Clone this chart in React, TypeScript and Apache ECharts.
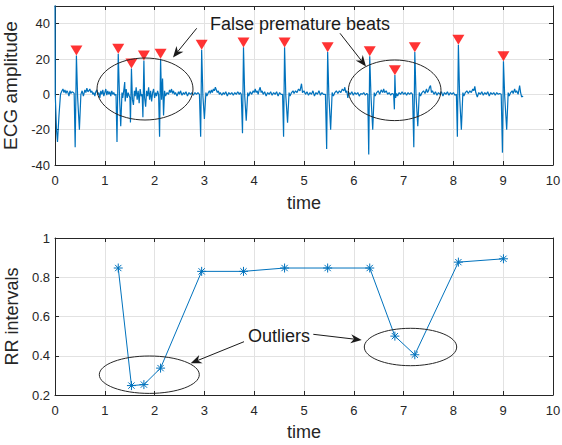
import React, { useEffect, useRef } from "react";
import * as echarts from "echarts";

// R-peak times (s) and detected-peak marker amplitudes
const peakTimes = [0.43, 1.27, 1.535, 1.785, 2.12, 2.945, 3.785, 4.61, 5.475, 6.32, 6.825, 7.225, 8.1, 9.005];
const peakMarkers = [24.8, 25.8, 17.4, 22, 23, 28, 29.4, 29.4, 26.7, 24.4, 13.7, 26.7, 30.9, 21.5];

// RR intervals (s) plotted at the time of the second beat of each pair
const rrTimes = [1.27, 1.535, 1.785, 2.12, 2.945, 3.785, 4.61, 5.475, 6.32, 6.825, 7.225, 8.1, 9.005];
const rrValues = [0.847, 0.248, 0.253, 0.337, 0.83, 0.83, 0.847, 0.847, 0.847, 0.5, 0.405, 0.877, 0.894];

// ECG trace samples [time, amplitude]
const ecgSamples: [number, number][] = [
  [0, 55], [0.005, 0], [0.03, -20], [0.05, -27], [0.08, -12], [0.11, 0], [0.14, 2],
  [0.16, 3], [0.18, 1], [0.2, 2.5], [0.22, 0.5], [0.24, 2], [0.26, 1], [0.28, -1], [0.3, 2], [0.32, 0.5], [0.34, 1.5], [0.37, 1],
  [0.385, 0.5], [0.405, -30], [0.43, 22], [0.455, -2], [0.49, -20], [0.52, 0], [0.545, 2],
  [0.57, -1], [0.6, 2.5], [0.62, 1], [0.64, 3.5], [0.66, 1.5], [0.68, 2], [0.7, 3], [0.72, 1], [0.74, 2], [0.76, 0], [0.78, 1], [0.8, -1],
  [0.82, 1.5], [0.84, 2.5], [0.86, 0], [0.88, 1], [0.9, -2], [0.92, 2], [0.94, 0], [0.96, 2.5], [0.98, -1], [1.0, 1], [1.02, 3], [1.04, -0.5],
  [1.06, 2], [1.08, 0], [1.1, 1.5], [1.12, -1], [1.14, 2], [1.16, 0], [1.18, 1], [1.2, -0.5],
  [1.225, 0], [1.245, -27], [1.27, 23], [1.295, -1], [1.32, -18], [1.345, 1], [1.36, -2],
  [1.38, 2], [1.4, 7], [1.41, -4], [1.43, 3], [1.45, -2], [1.47, 1], [1.49, -1],
  [1.505, -2], [1.515, -16], [1.535, 14.6], [1.555, -3], [1.575, -6], [1.595, 2], [1.61, -1],
  [1.63, 4], [1.65, -3], [1.67, 2], [1.69, -5], [1.71, 3], [1.73, -1],
  [1.75, 0], [1.765, -13], [1.785, 19.2], [1.8, -2], [1.82, -7], [1.84, 2], [1.86, -1],
  [1.88, 4], [1.9, -3], [1.92, 2], [1.94, -4], [1.96, 1], [1.98, 3], [2.0, -2], [2.02, 1], [2.04, -1], [2.06, 2],
  [2.08, 0], [2.1, -24], [2.12, 20.2], [2.14, -3], [2.16, 9], [2.18, -12], [2.2, 2], [2.22, -1],
  [2.25, 1], [2.28, 0], [2.3, 2.5], [2.32, 1], [2.34, 3], [2.36, 0.5], [2.38, 2], [2.4, 0], [2.42, 1], [2.45, -1], [2.48, 1.5], [2.5, 0],
  [2.52, 2], [2.55, -0.5], [2.58, 1], [2.6, 0], [2.63, 1.5], [2.66, -1], [2.69, 1], [2.72, 0], [2.75, 1], [2.78, -0.5], [2.81, 1], [2.84, 0], [2.87, 1],
  [2.9, 0], [2.925, -24], [2.945, 25.2], [2.97, -1], [3.0, -14], [3.03, 1], [3.05, -1],
  [3.08, 1], [3.1, 2], [3.12, 0.5], [3.14, 2.5], [3.16, 1], [3.18, 3], [3.2, 2], [3.22, 4], [3.24, 2.5], [3.26, 1], [3.28, 2], [3.3, 0],
  [3.32, 1], [3.35, -0.5], [3.38, 1], [3.4, 0], [3.43, 1.5], [3.46, -1], [3.49, 1], [3.52, 0], [3.55, 1], [3.58, -0.5], [3.61, 1], [3.64, 0],
  [3.67, 1.5], [3.7, 0], [3.72, 1],
  [3.74, 0], [3.765, -22], [3.785, 26.6], [3.81, -1], [3.84, -15], [3.87, 1], [3.89, -1],
  [3.92, 1.5], [3.95, 0], [3.98, 2], [4.0, 1], [4.02, 3], [4.04, 1], [4.06, 2], [4.08, 0], [4.1, 2.5], [4.12, 4], [4.14, 1], [4.16, 2],
  [4.18, 0], [4.21, 1.5], [4.24, -1], [4.27, 1], [4.3, 0], [4.33, 1.5], [4.36, -0.5], [4.39, 1], [4.42, 0], [4.45, 1.5], [4.48, -1], [4.51, 1], [4.54, 0],
  [4.57, 0], [4.59, -24], [4.61, 26.6], [4.635, -1], [4.67, -16], [4.7, 1], [4.72, -1],
  [4.75, 1], [4.78, 2], [4.8, 0.5], [4.83, 2], [4.86, 1], [4.89, 3], [4.92, 2], [4.95, 6], [4.97, 1], [5.0, 2], [5.03, 0], [5.06, 1.5],
  [5.09, -0.5], [5.12, 1], [5.15, 0], [5.18, 2], [5.21, -1], [5.24, 1], [5.27, 0], [5.3, 2], [5.33, -0.5], [5.36, 1], [5.39, 0],
  [5.43, 0], [5.455, -31], [5.475, 23.9], [5.5, -1], [5.535, -20], [5.565, 1], [5.59, -1],
  [5.62, 1], [5.65, 2], [5.68, 0.5], [5.71, 2], [5.74, 1], [5.77, 3], [5.8, 2], [5.82, 4], [5.84, 1], [5.86, 2], [5.88, -2], [5.9, 1],
  [5.93, 0], [5.96, 1.5], [5.99, -0.5], [6.02, 1], [6.05, 0], [6.08, 1], [6.11, -1], [6.14, 0.5], [6.17, 0], [6.2, 1], [6.23, -0.5], [6.26, 0.5],
  [6.28, 0], [6.3, -34], [6.32, 21.6], [6.345, -1], [6.38, -20], [6.41, 1], [6.43, -1],
  [6.46, 1], [6.49, 2], [6.52, 0], [6.55, 2.5], [6.58, 1], [6.6, 3], [6.62, 1], [6.65, 2], [6.68, 0], [6.71, 1], [6.74, -0.5], [6.77, 0.5],
  [6.8, 0], [6.815, -8.5], [6.825, 10.9], [6.84, -2], [6.86, 0.5], [6.88, -1],
  [6.91, 1], [6.94, 0], [6.97, 1.5], [7.0, 0], [7.03, 1], [7.06, -0.5], [7.09, 1], [7.12, 0], [7.15, 1],
  [7.18, 0], [7.205, -30], [7.225, 23.9], [7.25, -1], [7.285, -18], [7.315, 1], [7.34, -1],
  [7.37, 1], [7.4, 2], [7.43, 0.5], [7.46, 3], [7.48, 1], [7.5, 2], [7.52, 4], [7.54, 5], [7.56, 1], [7.58, 2], [7.61, 0], [7.64, 1.5],
  [7.67, -0.5], [7.7, 1], [7.73, 0], [7.76, 1.5], [7.79, -1], [7.82, 1], [7.85, 0], [7.88, 1.5], [7.91, -0.5], [7.94, 1], [7.97, 0], [8.0, 1], [8.03, -0.5],
  [8.06, 0], [8.08, -24], [8.1, 28.1], [8.125, -1], [8.16, -20], [8.19, 1], [8.21, -1],
  [8.24, 1], [8.27, 2], [8.3, 0.5], [8.33, 2], [8.36, 1], [8.39, 3], [8.41, 2], [8.43, 4.5], [8.45, 1], [8.48, -1.5], [8.51, 1], [8.54, 0],
  [8.57, 1.5], [8.6, -0.5], [8.63, 1], [8.66, 0], [8.69, 1.5], [8.72, -1], [8.75, 1], [8.78, 0], [8.81, 1], [8.84, -0.5], [8.87, 1], [8.9, 0], [8.93, 0.5],
  [8.96, 0], [8.985, -33], [9.005, 18.7], [9.03, -1], [9.07, -20], [9.1, 1], [9.12, -1],
  [9.15, 1], [9.18, 2], [9.2, 0.5], [9.23, 3], [9.25, 1], [9.27, 2], [9.3, 0], [9.33, 5], [9.35, 1], [9.37, -1.5], [9.4, -1],
];

const FONT = 'Arial, "Liberation Sans", Helvetica, sans-serif';
const AXIS = "#262626";
const GRIDC = "#e2e2e2";
const BLUE = "#0072BD";

function arrow(x1: number, y1: number, x2: number, y2: number): any[] {
  const dx = x2 - x1, dy = y2 - y1;
  const len = Math.hypot(dx, dy);
  const ux = dx / len, uy = dy / len;
  const nx = -uy, ny = ux;
  const L = 11, W = 4.5;
  const bx = x2 - L * ux, by = y2 - L * uy;
  const mx = x2 - 0.7 * L * ux, my = y2 - 0.7 * L * uy;
  return [
    { type: "line", z: 100, shape: { x1, y1, x2: mx, y2: my }, style: { stroke: "#1a1a1a", lineWidth: 1 } },
    {
      type: "polygon", z: 100,
      shape: { points: [[x2, y2], [bx + W * nx, by + W * ny], [mx, my], [bx - W * nx, by - W * ny]] },
      style: { fill: "#1a1a1a" },
    },
  ];
}

function bottomX(gridIndex: number, nameGap: number) {
  return {
    type: "value", gridIndex, min: 0, max: 10, interval: 1, position: "bottom",
    name: "time", nameLocation: "middle", nameGap,
    nameTextStyle: { fontSize: 18, color: AXIS, fontFamily: FONT },
    axisLine: { show: true, onZero: false, lineStyle: { color: AXIS, width: 1 } },
    axisTick: { show: true, inside: true, length: 4, lineStyle: { color: AXIS } },
    axisLabel: { show: true, margin: 9, fontSize: 13, color: AXIS, fontFamily: FONT },
    splitLine: { show: true, lineStyle: { color: GRIDC, width: 1 } },
  };
}
function topX(gridIndex: number) {
  return {
    type: "value", gridIndex, min: 0, max: 10, interval: 1, position: "top",
    axisLine: { show: true, onZero: false, lineStyle: { color: AXIS, width: 1 } },
    axisTick: { show: true, inside: true, length: 4, lineStyle: { color: AXIS } },
    axisLabel: { show: false }, splitLine: { show: false },
  };
}
function leftY(gridIndex: number, name: string, min: number, max: number, interval: number, hideMax: boolean, fontSize: number) {
  return {
    type: "value", gridIndex, min, max, interval, position: "left",
    name, nameLocation: "middle", nameGap: 29,
    nameTextStyle: { fontSize, color: AXIS, fontFamily: FONT },
    axisLine: { show: true, onZero: false, lineStyle: { color: AXIS, width: 1 } },
    axisTick: { show: true, inside: true, length: 4, lineStyle: { color: AXIS } },
    axisLabel: {
      show: true, margin: 5, fontSize: 13, color: AXIS, fontFamily: FONT,
      formatter: (v: number) => (hideMax && v === max ? "" : String(Math.round(v * 10) / 10)),
    },
    splitLine: { show: true, lineStyle: { color: GRIDC, width: 1 } },
  };
}
function rightY(gridIndex: number, min: number, max: number, interval: number) {
  return {
    type: "value", gridIndex, min, max, interval, position: "right",
    axisLine: { show: true, onZero: false, lineStyle: { color: AXIS, width: 1 } },
    axisTick: { show: true, inside: true, length: 4, lineStyle: { color: AXIS } },
    axisLabel: { show: false }, splitLine: { show: false },
  };
}

const STAR = "path://M5,0L5,10M0,5L10,5M1.5,1.5L8.5,8.5M1.5,8.5L8.5,1.5";

export default function App() {
  const ref = useRef<HTMLDivElement>(null);
  useEffect(() => {
    if (!ref.current) return;
    const chart = echarts.init(ref.current, null, { renderer: "svg" });
    const option: any = {
      animation: false,
      backgroundColor: "#ffffff",
      grid: [
        { left: 55, top: 6, width: 498, height: 159, containLabel: false, outerBoundsMode: "none" },
        { left: 55, top: 238, width: 498, height: 157, containLabel: false, outerBoundsMode: "none" },
      ],
      xAxis: [bottomX(0, 29), topX(0), bottomX(1, 28), topX(1)],
      yAxis: [
        leftY(0, "ECG amplitude", -40, 50, 20, true, 19),
        rightY(0, -40, 50, 20),
        leftY(1, "RR intervals", 0.2, 1, 0.2, false, 18),
        rightY(1, 0.2, 1, 0.2),
      ],
      series: [
        {
          type: "line", xAxisIndex: 0, yAxisIndex: 0, data: ecgSamples,
          showSymbol: false, symbol: "none", clip: true,
          lineStyle: { color: BLUE, width: 1.2 }, z: 2,
        },
        {
          type: "scatter", xAxisIndex: 0, yAxisIndex: 0,
          data: peakTimes.map((t, i) => [t, peakMarkers[i]]),
          symbol: "triangle", symbolRotate: 180, symbolSize: [12, 10],
          itemStyle: { color: "#ff0000" }, z: 3,
        },
        {
          type: "line", xAxisIndex: 2, yAxisIndex: 2,
          data: rrTimes.map((t, i) => [t, rrValues[i]]),
          symbol: STAR, symbolSize: 9, showSymbol: true,
          lineStyle: { color: BLUE, width: 1 },
          itemStyle: { color: BLUE, borderColor: BLUE, borderWidth: 1 }, z: 2,
        },
      ],
      graphic: [
        { type: "ellipse", z: 100, shape: { cx: 145, cy: 89, rx: 48, ry: 31 }, style: { fill: "none", stroke: "#262626", lineWidth: 1 } },
        { type: "ellipse", z: 100, shape: { cx: 394.7, cy: 90.3, rx: 46.3, ry: 30.3 }, style: { fill: "none", stroke: "#262626", lineWidth: 1 } },
        { type: "ellipse", z: 100, shape: { cx: 149.3, cy: 374.7, rx: 50, ry: 18.7 }, style: { fill: "none", stroke: "#262626", lineWidth: 1 } },
        { type: "ellipse", z: 100, shape: { cx: 410.5, cy: 347, rx: 46.2, ry: 18.7 }, style: { fill: "none", stroke: "#262626", lineWidth: 1 } },
        {
          type: "text", z: 100, x: 300, y: 24,
          style: { text: "False premature beats", fontSize: 18, fontFamily: FONT, fill: "#1a1a1a", align: "center", verticalAlign: "middle", textAlign: "center", textVerticalAlign: "middle" },
        },
        {
          type: "text", z: 100, x: 279, y: 335.5,
          style: { text: "Outliers", fontSize: 18, fontFamily: FONT, fill: "#1a1a1a", align: "center", verticalAlign: "middle", textAlign: "center", textVerticalAlign: "middle" },
        },
        ...arrow(196.7, 28.3, 173, 57.5),
        ...arrow(340, 33.3, 366, 66.5),
        ...arrow(244, 341.7, 190.7, 363.3),
        ...arrow(313.3, 334.3, 361.7, 340),
      ],
    };
    chart.setOption(option);
    return () => chart.dispose();
  }, []);
  return <div ref={ref} style={{ position: "fixed", left: 0, top: 0, width: 562, height: 445 }} />;
}
